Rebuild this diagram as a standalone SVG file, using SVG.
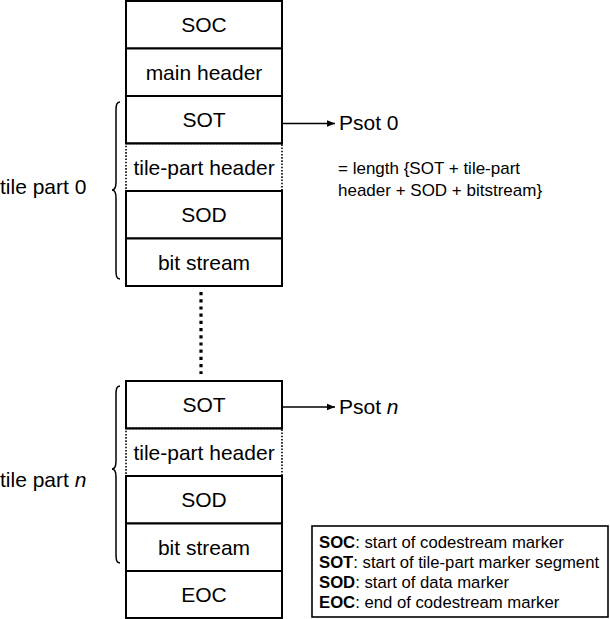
<svg xmlns="http://www.w3.org/2000/svg" width="610" height="619" viewBox="0 0 610 619">
<defs>
<style>
text{font-family:"Liberation Sans",Arial,sans-serif;fill:#000}
.cell{fill:#fff;stroke:#000;stroke-width:2}
.dot{fill:#fff;stroke:#000;stroke-width:1.6;stroke-dasharray:1.6 1.6}
.lbl{font-size:21px;text-anchor:middle}
.side{font-size:21px}
.note{font-size:17px}
.leg{font-size:16.7px}
.brace{fill:none;stroke:#000;stroke-width:1.5}
.conn{fill:none;stroke:#000;stroke-width:1.6}
</style>
<marker id="arr" viewBox="0 0 10 10" refX="10" refY="5" markerWidth="8" markerHeight="8" markerUnits="userSpaceOnUse" orient="auto">
<path d="M0,1 L10,5 L0,9 z" fill="#000"/>
</marker>
</defs>
<rect width="610" height="619" fill="#fff"/>

<g id="soc"><rect class="cell" x="126" y="1" width="156" height="47.5"/><text class="lbl" x="204" y="32">SOC</text></g>
<g id="main-header"><rect class="cell" x="126" y="48.5" width="156" height="47.5"/><text class="lbl" x="204" y="80">main header</text></g>
<g id="sot0"><rect class="cell" x="126" y="96" width="156" height="47.5"/><text class="lbl" x="204" y="127">SOT</text></g>
<g id="tph0"><rect class="dot" x="126" y="143.5" width="156" height="47.5"/><text class="lbl" x="204" y="175">tile-part header</text></g>
<g id="sod0"><rect class="cell" x="126" y="191" width="156" height="47.5"/><text class="lbl" x="204" y="222">SOD</text></g>
<g id="bs0"><rect class="cell" x="126" y="238.5" width="156" height="47.5"/><text class="lbl" x="204" y="270">bit stream</text></g>
<line x1="126" y1="143.5" x2="282" y2="143.5" stroke="#000" stroke-width="2"/>
<line x1="126" y1="191" x2="282" y2="191" stroke="#000" stroke-width="2"/>

<g id="sotn"><rect class="cell" x="126" y="381" width="156" height="47.5"/><text class="lbl" x="204" y="412">SOT</text></g>
<g id="tphn"><rect class="dot" x="126" y="428.5" width="156" height="47.5"/><text class="lbl" x="204" y="460">tile-part header</text></g>
<g id="sodn"><rect class="cell" x="126" y="476" width="156" height="47.5"/><text class="lbl" x="204" y="507">SOD</text></g>
<g id="bsn"><rect class="cell" x="126" y="523.5" width="156" height="47.5"/><text class="lbl" x="204" y="555">bit stream</text></g>
<g id="eoc"><rect class="cell" x="126" y="571" width="156" height="47"/><text class="lbl" x="204" y="602">EOC</text></g>
<line x1="126" y1="428.5" x2="282" y2="428.5" stroke="#000" stroke-width="2"/>
<line x1="126" y1="476" x2="282" y2="476" stroke="#000" stroke-width="2"/>

<g id="brace0"><path class="brace" d="M120,102 C116.5,102 116,105 116,111 L116,182 C116,187 114.5,190 112,190 C114.5,190 116,193 116,198 L116,270 C116,276 116.5,279 120,279"/><text class="side" x="0" y="194">tile part 0</text></g>
<g id="bracen"><path class="brace" d="M120,386 C116.5,386 116,389 116,395 L116,461 C116,466 114.5,469 112,469 C114.5,469 116,472 116,477 L116,554 C116,560 116.5,563 120,563"/><text class="side" x="0" y="487">tile part <tspan font-style="italic">n</tspan></text></g>

<g id="connectors">
<line class="conn" x1="282" y1="123.5" x2="335" y2="123.5" marker-end="url(#arr)"/>
<line class="conn" x1="282" y1="407" x2="335" y2="407" marker-end="url(#arr)"/>
<line x1="201" y1="292" x2="201" y2="374" stroke="#000" stroke-width="3.2" stroke-dasharray="3.2 4"/>
</g>

<g id="psot0"><text class="side" x="339" y="130">Psot 0</text></g>
<g id="psotn"><text class="side" x="339" y="414">Psot <tspan font-style="italic">n</tspan></text></g>
<g id="note"><text class="note" x="338" y="174">= length {SOT + tile-part</text><text class="note" x="338" y="196">header + SOD + bitstream}</text></g>

<g id="legend">
<rect x="312" y="526" width="296" height="91" fill="#fff" stroke="#000" stroke-width="1.6"/>
<text class="leg" x="319" y="548"><tspan font-weight="bold">SOC</tspan>: start of codestream marker</text>
<text class="leg" x="319" y="568"><tspan font-weight="bold">SOT</tspan>: start of tile-part marker segment</text>
<text class="leg" x="319" y="588"><tspan font-weight="bold">SOD</tspan>: start of data marker</text>
<text class="leg" x="319" y="608"><tspan font-weight="bold">EOC</tspan>: end of codestream marker</text>
</g>
</svg>
